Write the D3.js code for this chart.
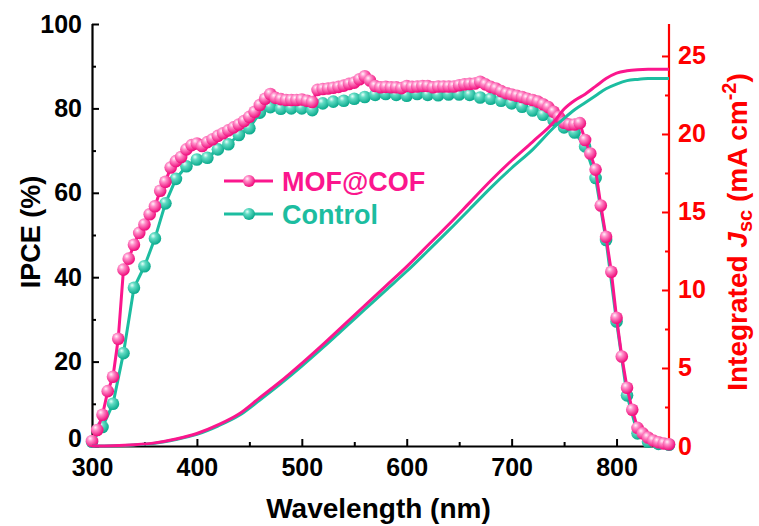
<!DOCTYPE html>
<html><head><meta charset="utf-8">
<script src="https://cdn.jsdelivr.net/npm/d3@7"></script>
<style>
html,body{margin:0;padding:0;background:#fff;}
text{font-family:"Liberation Sans",Arial,sans-serif;font-weight:bold;}
</style></head>
<body>
<svg id="chart" width="759" height="526"></svg>
<script>
// ---- data ----
const wavePink = d3.range(300, 851, 5);
const ipcePink = [1.2,3.8,7.4,13.0,16.4,25.4,41.8,44.4,47.7,50.5,52.5,54.9,56.8,60.5,62.6,66.0,67.5,68.5,70.3,71.3,
  71.7,71.1,72.0,72.7,73.5,74.1,74.8,75.5,76.2,77.0,78.0,79.2,80.8,82.3,83.4,82.5,82.2,82.0,82.0,82.0,
  82.1,81.8,81.5,84.4,84.6,84.7,84.9,85.1,85.4,85.8,86.1,86.9,87.6,86.6,85.3,85.0,85.1,85.0,85.0,84.8,
  85.3,85.1,85.2,85.3,85.3,85.0,85.2,85.2,85.2,85.2,85.5,85.7,85.8,85.9,86.3,85.7,85.1,84.7,84.1,83.6,
  83.3,83.0,82.7,82.3,82.0,81.6,81.0,80.3,79.2,78.0,76.6,76.2,76.2,76.5,72.5,69.3,65.5,57.0,49.6,41.3,
  30.4,21.2,13.8,8.6,4.3,3.0,2.0,1.3,0.9,0.6,0.4];
const waveControl = d3.range(300, 851, 10);
const ipceControl = [1.0,4.5,10.0,22.0,37.5,42.6,49.2,57.5,63.3,66.3,67.9,68.3,70.3,71.5,73.7,75.3,79.0,80.3,79.9,80.0,
  80.0,79.6,81.2,81.6,81.8,82.3,82.7,83.2,83.4,83.2,83.0,83.4,83.2,83.1,83.3,83.3,83.2,82.6,82.3,81.8,
  81.2,80.4,79.5,78.5,77.2,75.5,74.3,71.0,63.5,48.8,29.5,12.0,3.0,1.0,0.5,0.3];
const jscWave = [300,320,340,360,380,400,420,440,460,480,500,520,540,560,580,600,620,640,660,680,700,720,740,750,760,770,780,790,800,810,820,830,840,850];
const jscPink = [0,0.02,0.08,0.2,0.45,0.8,1.35,2.05,3.1,4.15,5.3,6.5,7.75,9.0,10.25,11.5,12.85,14.2,15.6,17.0,18.3,19.5,20.75,21.6,22.15,22.55,23.05,23.55,23.9,24.05,24.12,24.15,24.15,24.15];
const jscControl = [0,0.02,0.07,0.18,0.42,0.75,1.28,1.95,2.95,4.0,5.12,6.3,7.52,8.75,9.98,11.2,12.5,13.82,15.18,16.55,17.82,19.0,20.4,21.0,21.55,22.0,22.45,22.9,23.2,23.42,23.5,23.55,23.56,23.56];
const xTicks = [300,400,500,600,700,800];
const xMinor = [350,450,550,650,750];
const yTicks = [0,20,40,60,80,100];
const yMinor = [10,30,50,70,90];
const y2Ticks = [0,5,10,15,20,25];
const y2Minor = [2.5,7.5,12.5,17.5,22.5];
const seriesNames = ["MOF@COF","Control"];

// ---- style ----
const PINK = "#FB168D", TEAL = "#1CBDA0", RED = "#FF0000";
const L = 92, R = 669, T = 24, B = 446;

const svg = d3.select("#chart");
const defs = svg.append("defs");
function grad(id, c0, c1, c2){
  const g = defs.append("radialGradient").attr("id", id).attr("cx","38%").attr("cy","35%").attr("r","62%").attr("fx","35%").attr("fy","30%");
  g.append("stop").attr("offset","0%").attr("stop-color",c0);
  g.append("stop").attr("offset","35%").attr("stop-color",c1);
  g.append("stop").attr("offset","100%").attr("stop-color",c2);
}
grad("gPink","#fff4fa","#ff8cc8","#f0127f");
grad("gTeal","#e8fffa","#62dcc4","#10ad90");

const x = d3.scaleLinear().domain([300,850]).range([L,R]);
const y = d3.scaleLinear().domain([0,100]).range([B,T]);
const y2 = d3.scaleLinear().domain([0,27.05]).range([B,T]);

// axes
const gx = svg.append("g").attr("transform",`translate(0,${B})`)
  .call(d3.axisBottom(x).tickValues(xTicks).tickSize(-7).tickPadding(12).tickFormat(d3.format("d")));
const gxm = svg.append("g").attr("transform",`translate(0,${B})`)
  .call(d3.axisBottom(x).tickValues(xMinor).tickSize(-4).tickFormat("")).call(g=>g.select(".domain").remove());
const gy = svg.append("g").attr("transform",`translate(${L},0)`)
  .call(d3.axisLeft(y).tickValues(yTicks).tickSize(-7).tickPadding(10));
const gym = svg.append("g").attr("transform",`translate(${L},0)`)
  .call(d3.axisLeft(y).tickValues(yMinor).tickSize(-4).tickFormat("")).call(g=>g.select(".domain").remove());
const gy2 = svg.append("g").attr("transform",`translate(${R},0)`)
  .call(d3.axisRight(y2).tickValues(y2Ticks).tickSize(-7).tickPadding(9));
const gy2m = svg.append("g").attr("transform",`translate(${R},0)`)
  .call(d3.axisRight(y2).tickValues(y2Minor).tickSize(-4).tickFormat("")).call(g=>g.select(".domain").remove());

svg.selectAll(".domain").attr("stroke-width",2.2);
svg.selectAll(".tick line").attr("stroke-width",2);
gx.selectAll("text").attr("font-size",25).attr("fill","#000");
gy.selectAll("text").attr("font-size",25).attr("fill","#000");
gy.selectAll(".tick").filter(d=>d===0).select("text").attr("dy","0.0em");
gy2.selectAll("text").attr("font-size",25).attr("fill",RED);
gy2.selectAll("line,path").attr("stroke",RED);
gy2m.selectAll("line,path").attr("stroke",RED);
gx.select(".domain").attr("d",`M${L},0.5H${R}`);
gy.select(".domain").attr("d",`M0.5,${B}V${T}`);
gy2.select(".domain").attr("d",`M0,${B+1}V${T}`);

// IPCE lines
const line = d3.line().x(d=>x(d[0])).y(d=>y(d[1]));
const ctrlPts = waveControl.map((w,i)=>[w,ipceControl[i]]);
const pinkPts = wavePink.map((w,i)=>[w,ipcePink[i]]);
svg.append("path").datum(ctrlPts).attr("d",line).attr("fill","none").attr("stroke",TEAL).attr("stroke-width",3);
svg.append("g").selectAll("circle").data(ctrlPts).join("circle")
  .attr("cx",d=>x(d[0])).attr("cy",d=>y(d[1])).attr("r",6.3).attr("fill","url(#gTeal)");
svg.append("path").datum(pinkPts).attr("d",line).attr("fill","none").attr("stroke",PINK).attr("stroke-width",3);
svg.append("g").selectAll("circle").data(pinkPts).join("circle")
  .attr("cx",d=>x(d[0])).attr("cy",d=>y(d[1])).attr("r",6.3).attr("fill","url(#gPink)");

// Jsc lines
const line2 = d3.line().x(d=>x(d[0])).y(d=>y2(d[1])).curve(d3.curveMonotoneX);
svg.append("path").datum(jscWave.map((w,i)=>[w,jscControl[i]])).attr("d",line2).attr("fill","none").attr("stroke",TEAL).attr("stroke-width",3);
svg.append("path").datum(jscWave.map((w,i)=>[w,jscPink[i]])).attr("d",line2).attr("fill","none").attr("stroke",PINK).attr("stroke-width",3);

// titles
svg.append("text").attr("x",(L+R)/2 - 2).attr("y",518).attr("text-anchor","middle").attr("font-size",28).text("Wavelength (nm)");
svg.append("text").attr("transform","translate(40,232) rotate(-90)").attr("text-anchor","middle").attr("font-size",27).text("IPCE (%)");
const t2 = svg.append("text").attr("transform","translate(747,232) rotate(-90)").attr("text-anchor","middle").attr("font-size",28).attr("fill",RED);
t2.append("tspan").text("Integrated ");
t2.append("tspan").attr("font-style","italic").text("J");
t2.append("tspan").attr("font-size",20).attr("dy",5).text("sc");
t2.append("tspan").attr("dy",-5).text(" (mA cm");
t2.append("tspan").attr("font-size",20).attr("dy",-11).text("-2");
t2.append("tspan").attr("dy",11).text(")");

// legend
const legendColors = [PINK, TEAL], legendGrads = ["url(#gPink)","url(#gTeal)"], legendY = [181, 214];
seriesNames.forEach((nm,i)=>{
  const g = svg.append("g");
  g.append("line").attr("x1",224).attr("x2",273).attr("y1",legendY[i]).attr("y2",legendY[i]).attr("stroke",legendColors[i]).attr("stroke-width",3);
  g.append("circle").attr("cx",249).attr("cy",legendY[i]).attr("r",6).attr("fill",legendGrads[i]);
  g.append("text").attr("x",282).attr("y",legendY[i]+10).attr("font-size",27).attr("fill",legendColors[i]).text(nm);
});
</script>
</body></html>
